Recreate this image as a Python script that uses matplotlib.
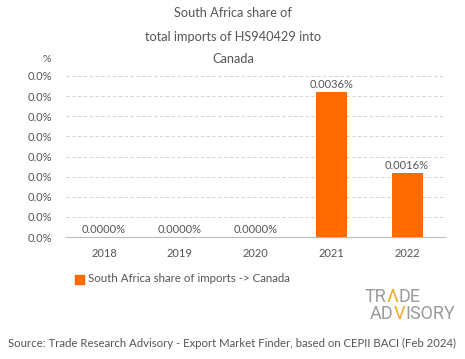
import matplotlib.pyplot as plt
import numpy as np
from matplotlib import font_manager

years = ['2018', '2019', '2020', '2021', '2022']
share = [0.0, 0.0, 0.0, 0.0036, 0.0016]
bar_labels = ['0.0000%', '0.0000%', '0.0000%', '0.0036%', '0.0016%']

plt.rcParams['font.family'] = ['Lato', 'DejaVu Sans']
grey = '#555555'
orange = '#FF6A00'

fig = plt.figure(figsize=(4.65, 3.59), dpi=100)
ax = fig.add_axes([66 / 465, 1 - 237 / 359, 379 / 465, 161 / 359])

x = np.arange(len(years))
ax.bar(x, share, width=0.41, color=orange, zorder=3)
for xi, v, lab in zip(x, share, bar_labels):
    ax.text(xi, v + 0.00005, lab, ha='center', va='bottom', fontsize=8, color=grey, zorder=4)

ax.set_xlim(-0.5, 4.5)
ax.set_ylim(0, 0.004)
ax.set_yticks(np.arange(0, 0.00401, 0.0005))
ax.set_yticklabels(['0.0%'] * 9)
ax.set_xticks(x)
ax.set_xticklabels(years)
ax.tick_params(axis='both', length=0, labelsize=8, colors=grey)
ax.tick_params(axis='x', pad=8)
ax.tick_params(axis='y', pad=10)
ax.grid(axis='y', color='#cccccc', linestyle=(0, (4, 3)), linewidth=0.6, zorder=0)
for s in ['top', 'right', 'left']:
    ax.spines[s].set_visible(False)
ax.spines['bottom'].set_color('#bbbbbb')
ax.spines['bottom'].set_linewidth(0.8)

fig.text(233 / 465, 1 - 13 / 359, 'South Africa share of', ha='center', va='center', fontsize=9.2, color=grey)
fig.text(233 / 465, 1 - 37 / 359, 'total imports of HS940429 into', ha='center', va='center', fontsize=9.2, color=grey)
fig.text(233 / 465, 1 - 59 / 359, 'Canada', ha='center', va='center', fontsize=9.2, color=grey)
fig.text(47 / 465, 1 - 60 / 359, '%', ha='center', va='center', fontsize=7.5, color=grey)

# legend
fig.patches.append(plt.Rectangle((75 / 465, 1 - 284 / 359), 9 / 465, 9 / 359,
                                 transform=fig.transFigure, color=orange))
fig.text(88 / 465, 1 - 279 / 359, 'South Africa share of imports -> Canada',
         ha='left', va='center', fontsize=8.3, color=grey)

# logo, drawn piece by piece so the A / V can be orange
names = {f.name for f in font_manager.fontManager.ttflist}
logo_font = 'Liberation Sans Narrow' if 'Liberation Sans Narrow' in names else 'Roboto'
renderer = fig.canvas.get_renderer()


def logo_line(x0, y, parts):
    xpos = x0
    for txt, col in parts:
        t = fig.text(xpos / 465, 1 - y / 359, txt, ha='left', va='center', fontsize=13,
                     color=col, fontfamily=logo_font)
        xpos += t.get_window_extent(renderer).width


logo_line(365, 297, [('TR', '#9a9a9a'), ('\u039b', '#F5A623'), ('DE', '#9a9a9a')])
logo_line(370, 314, [('AD', '#9a9a9a'), ('V', '#F5A623'), ('ISORY', '#9a9a9a')])

fig.text(232 / 465, 1 - 343 / 359,
         'Source: Trade Research Advisory - Export Market Finder, based on CEPII BACI (Feb 2024)',
         ha='center', va='center', fontsize=8.2, color=grey)

fig.savefig('out.png', dpi=100)
